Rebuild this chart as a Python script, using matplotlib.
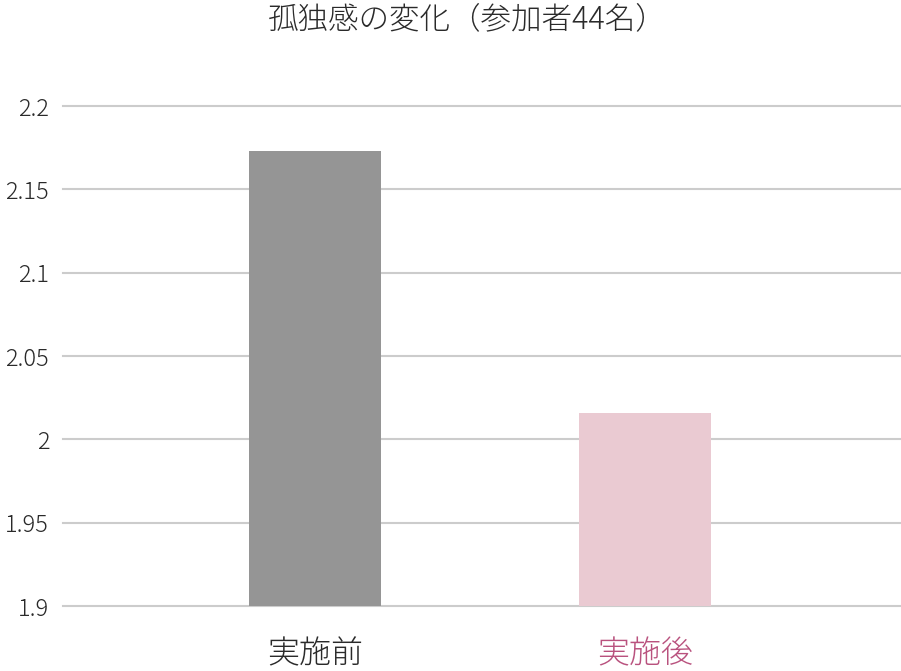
import matplotlib
matplotlib.use("Agg")
import matplotlib.pyplot as plt

plt.rcParams['font.family'] = ['Noto Sans CJK JP', 'DejaVu Sans']

categories = ['実施前', '実施後']
values = [2.173, 2.016]
bar_colors = ['#959595', '#eacad2']
label_colors = ['#2a2a2a', '#b9527e']
yticks = [1.9, 1.95, 2.0, 2.05, 2.1, 2.15, 2.2]
ytick_labels = ['1.9', '1.95', '2', '2.05', '2.1', '2.15', '2.2']
title = '孤独感の変化（参加者44名）'

fig = plt.figure(figsize=(9.01, 6.71), dpi=100)
ax = fig.add_axes([63/901, 1 - 606/671, 1 - 63/901, 500/671])

ax.set_ylim(1.9, 2.2)
ax.set_xlim(-0.764, 1.776)
ax.set_yticks(yticks)
ax.set_yticklabels(ytick_labels, fontsize=17, color='#2a2a2a', fontweight='light')
ax.yaxis.grid(True, color='#cccccc', linewidth=1.5)
for gl in ax.get_ygridlines():
    gl.set_clip_on(False)
ax.set_axisbelow(True)
ax.tick_params(axis='y', length=0, pad=10)
ax.tick_params(axis='x', length=0, pad=22)

x = list(range(len(categories)))
ax.bar(x, [v - 1.9 for v in values], bottom=1.9, width=0.4, color=bar_colors, zorder=3)
ax.set_xticks(x)
ax.set_xticklabels(categories, fontsize=23, fontweight='light')
for lbl, c in zip(ax.get_xticklabels(), label_colors):
    lbl.set_color(c)

for s in ax.spines.values():
    s.set_visible(False)

fig.text(467/901, 1 - 19/671, title, ha='center', va='center', fontsize=22,
         fontweight='light', color='#2a2a2a')

fig.savefig('out.png', dpi=100)
